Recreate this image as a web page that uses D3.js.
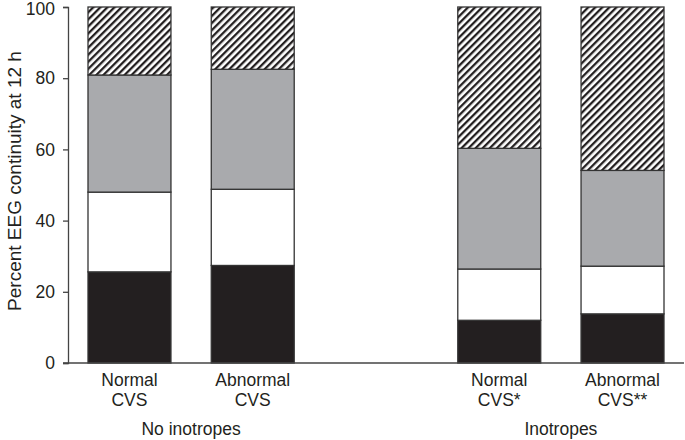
<!DOCTYPE html>
<html>
<head>
<meta charset="utf-8">
<script src="https://cdn.jsdelivr.net/npm/d3@7"></script>
<style>
  html, body { margin: 0; padding: 0; background: #fff; }
  svg { display: block; }
  text { font-family: "Liberation Sans", Arial, sans-serif; fill: #231f20; }
</style>
</head>
<body>
<svg id="chart" width="685" height="440"></svg>
<script>
// ---- data ----
const barIds = ["nn", "na", "gap", "in", "ia"];
const barLine1 = ["Normal", "Abnormal", "", "Normal", "Abnormal"];
const barLine2 = ["CVS", "CVS", "", "CVS*", "CVS**"];
const groups = ["No inotropes", "Inotropes"];
const groupBars = [["nn", "na"], ["in", "ia"]];
const bars = ["nn", "na", "in", "ia"];
const blackVals = [25.6, 27.4, 12.0, 13.8];
const whiteVals = [22.4, 21.4, 14.4, 13.4];
const grayVals = [32.9, 33.7, 33.9, 26.9];
const hatchVals = [19.1, 17.5, 39.7, 45.9];
const yTicks = [0, 20, 40, 60, 80, 100];

const svg = d3.select("#chart");
const x = d3.scaleBand().domain(barIds).range([88, 664]).paddingInner(0.327).paddingOuter(0);
const y = d3.scaleLinear().domain([0, 100]).range([363, 7]);

// hatch pattern
const defs = svg.append("defs");
const pat = defs.append("pattern")
  .attr("id", "hatch").attr("patternUnits", "userSpaceOnUse")
  .attr("width", 5).attr("height", 10)
  .attr("patternTransform", "rotate(45)");
pat.append("rect").attr("width", 5).attr("height", 10).attr("fill", "#fff");
pat.append("rect").attr("x", 0).attr("width", 2.3).attr("height", 10).attr("fill", "#231f20");

const series = [
  { vals: blackVals, fill: "#231f20" },
  { vals: whiteVals, fill: "#ffffff" },
  { vals: grayVals, fill: "#a9aaad" },
  { vals: hatchVals, fill: "url(#hatch)" }
];

const segs = [];
bars.forEach((b, i) => {
  let base = 0;
  series.forEach(s => {
    segs.push({ bar: b, y0: base, y1: base + s.vals[i], fill: s.fill });
    base += s.vals[i];
  });
});

svg.append("g").selectAll("rect").data(segs).join("rect")
  .attr("x", d => x(d.bar))
  .attr("width", x.bandwidth())
  .attr("y", d => y(d.y1))
  .attr("height", d => y(d.y0) - y(d.y1))
  .attr("fill", d => d.fill)
  .attr("stroke", "#333")
  .attr("stroke-width", 1.3);

// y axis
const yAxis = svg.append("g").attr("transform", "translate(68,0)")
  .call(d3.axisLeft(y).tickValues(yTicks).tickSize(5).tickPadding(8));
yAxis.select(".domain").attr("stroke", "#444").attr("stroke-width", 1.3);
yAxis.selectAll(".tick line").attr("stroke", "#444").attr("stroke-width", 1.3);
yAxis.selectAll(".tick text").attr("font-size", 17.5).attr("font-family", "Liberation Sans, Arial, sans-serif").attr("fill", "#231f20");
yAxis.selectAll(".tick text").filter(d => d === 100).attr("dy", "0.42em");

// x baseline
svg.append("line").attr("x1", 63).attr("x2", 684).attr("y1", y(0)).attr("y2", y(0))
  .attr("stroke", "#444").attr("stroke-width", 1.3);

// category labels
const catG = svg.append("g");
barIds.forEach((id, i) => {
  if (!barLine1[i]) return;
  const cx = x(id) + x.bandwidth() / 2;
  catG.append("text").attr("x", cx).attr("y", 386).attr("text-anchor", "middle").attr("font-size", 17.5).text(barLine1[i]);
  catG.append("text").attr("x", cx).attr("y", 406).attr("text-anchor", "middle").attr("font-size", 17.5).text(barLine2[i]);
});
groups.forEach((g, i) => {
  const [a, b] = groupBars[i];
  const cx = (x(a) + x(b) + x.bandwidth()) / 2;
  svg.append("text").attr("x", cx).attr("y", 435).attr("text-anchor", "middle").attr("font-size", 17.5).text(g);
});

// y title
svg.append("text")
  .attr("transform", "translate(20.5,181) rotate(-90)")
  .attr("text-anchor", "middle").attr("font-size", 19)
  .text("Percent EEG continuity at 12 h");
</script>
</body>
</html>
